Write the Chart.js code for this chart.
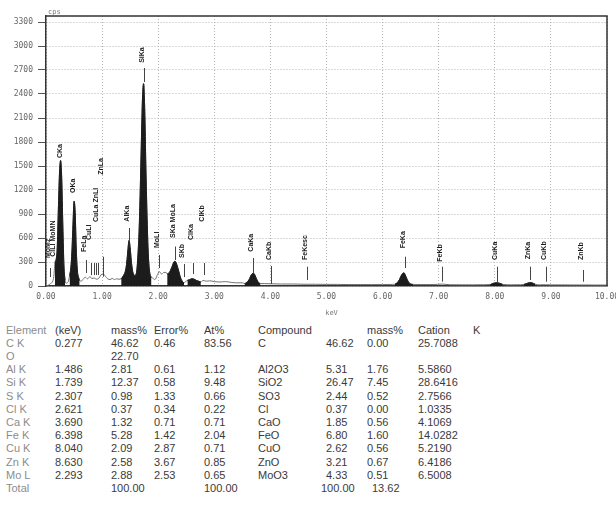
<!DOCTYPE html>
<html>
<head>
<meta charset="utf-8">
<script src="https://cdn.jsdelivr.net/npm/chart.js@4.4.1/dist/chart.umd.min.js"></script>
<style>
  body { margin: 0; background: #fff; }
  #wrap { position: relative; width: 616px; height: 505px; overflow: hidden; }
  #plot { position: absolute; left: 0; top: 0; }
  .cell { position: absolute; font: 11px "Liberation Sans", Arial, sans-serif; color: #3a3a3a; white-space: nowrap; line-height: 13px; }
  .lite { color: #8c8c8c; }
</style>
</head>
<body>
<div id="wrap">
  <canvas id="plot" width="616" height="320"></canvas>
</div>
<script>
// spectrum (keV / counts)
var energy = [0.00, 0.04, 0.08, 0.12, 0.14, 0.16, 0.18, 0.20, 0.22, 0.24, 0.26, 0.28, 0.30, 0.32, 0.34, 0.36, 0.38, 0.40,
  0.42, 0.44, 0.46, 0.48, 0.50, 0.52, 0.54, 0.56, 0.58, 0.60, 0.62, 0.66, 0.70, 0.74, 0.78, 0.82, 0.86, 0.90, 0.94, 0.98,
  1.02, 1.06, 1.10, 1.14, 1.18, 1.22, 1.26, 1.30, 1.34, 1.38, 1.42, 1.44, 1.46, 1.48, 1.50, 1.52, 1.54, 1.56, 1.58, 1.60,
  1.62, 1.64, 1.66, 1.68, 1.70, 1.72, 1.74, 1.76, 1.78, 1.80, 1.82, 1.84, 1.86, 1.88, 1.90, 1.94, 1.98, 2.02, 2.06, 2.10,
  2.14, 2.16, 2.20, 2.24, 2.28, 2.30, 2.32, 2.36, 2.40, 2.44, 2.46, 2.48, 2.52, 2.56, 2.60, 2.64, 2.68, 2.72, 2.76, 2.80,
  2.86, 2.92, 3.00, 3.10, 3.20, 3.30, 3.40, 3.50, 3.54, 3.58, 3.62, 3.66, 3.70, 3.74, 3.78, 3.82, 3.90, 4.00, 4.20, 4.40,
  4.60, 4.80, 5.00, 5.20, 5.40, 5.60, 5.80, 6.00, 6.18, 6.22, 6.26, 6.30, 6.34, 6.38, 6.42, 6.46, 6.50, 6.54, 6.70, 6.90,
  7.06, 7.20, 7.40, 7.60, 7.80, 7.92, 7.96, 8.02, 8.08, 8.14, 8.30, 8.46, 8.52, 8.56, 8.62, 8.66, 8.72, 8.80, 8.90, 9.00,
  9.20, 9.40, 9.60, 9.80, 10.00];
var counts = [0, 10, 30, 60, 120, 300, 330, 480, 950, 1400, 1570, 1350, 750, 250, 70, 35, 40, 60,
  130, 210, 400, 750, 1060, 920, 450, 190, 110, 70, 60, 80, 110, 90, 115, 95, 100, 85, 95, 140,
  150, 120, 90, 80, 95, 80, 90, 85, 90, 130, 200, 300, 450, 570, 480, 320, 200, 150, 130, 140,
  200, 400, 700, 1200, 1800, 2350, 2530, 2200, 1500, 900, 450, 220, 130, 110, 100, 80, 130, 180, 150, 170,
  170, 150, 170, 230, 300, 310, 290, 200, 100, 50, 40, 50, 70, 80, 90, 85, 70, 60, 50, 70,
  60, 65, 55, 50, 55, 45, 40, 40, 30, 45, 80, 140, 160, 110, 50, 30, 30, 28, 25, 25,
  22, 22, 20, 20, 18, 18, 18, 18, 20, 22, 40, 80, 140, 165, 110, 50, 25, 20, 18, 18,
  24, 16, 15, 15, 16, 18, 30, 40, 35, 20, 15, 16, 20, 28, 42, 40, 22, 15, 16, 14,
  14, 13, 13, 12, 12];

// filled element windows (keV)
var roiStart = [0.16, 0.42, 1.34, 2.16, 2.52, 3.54, 6.22, 7.92, 8.52];
var roiEnd   = [0.34, 0.60, 1.88, 2.46, 2.76, 3.82, 6.54, 8.14, 8.72];

// axis ticks
var yTicks = [0, 300, 600, 900, 1200, 1500, 1800, 2100, 2400, 2700, 3000, 3300];
var xTicks = [0, 1, 2, 3, 4, 5, 6, 7, 8, 9, 10];

// element line markers
var markerKeV  = [0.08, 0.16, 0.277, 0.525, 0.705, 0.811, 0.85, 0.884, 0.930, 1.012, 1.486, 1.739, 2.015, 2.293, 2.307,
  2.464, 2.621, 2.815, 3.690, 4.012, 4.66, 6.398, 7.057, 8.040, 8.630, 8.904, 9.570];
var markerLo   = [112, 0, 0, 0, 162, 137, 137, 137, 137, 116, 575, 2550, 225, 325, 325,
  112, 150, 137, 162, 25, 75, 225, 54, 34, 75, 54, 54];
var markerHi   = [225, 0, 0, 0, 325, 287, 287, 287, 287, 366, 725, 2725, 387, 491, 491,
  275, 287, 287, 350, 250, 241, 366, 241, 241, 241, 241, 200];
var markerTextAt = [350, 366, 1600, 1162, 425, 575, 0, 0, 800, 1390, 804, 2790, 475, 600, 0,
  350, 575, 804, 429, 325, 325, 471, 304, 325, 334, 325, 325];
var markerName = ["MoMz", "ClLl MoMN", "CKa", "OKa", "FeLa", "CuLl", "", "", "CuLa ZnLl", "ZnLa", "AlKa", "SiKa", "MoLl", "SKa MoLa", "",
  "SKb", "ClKa", "ClKb", "CaKa", "CaKb", "FeKesc", "FeKa", "FeKb", "CuKa", "ZnKa", "CuKb", "ZnKb"];

// quantification table
var tabHeader = ["Element", "(keV)", "mass%", "Error%", "At%", "Compound", "", "mass%", "Cation", "K"];
var colElement = ["C K", "O", "Al K", "Si K", "S K", "Cl K", "Ca K", "Fe K", "Cu K", "Zn K", "Mo L", "Total"];
var colKeV     = ["0.277", "", "1.486", "1.739", "2.307", "2.621", "3.690", "6.398", "8.040", "8.630", "2.293", ""];
var colMass    = ["46.62", "22.70", "2.81", "12.37", "0.98", "0.37", "1.32", "5.28", "2.09", "2.58", "2.88", "100.00"];
var colError   = ["0.46", "", "0.61", "0.58", "1.33", "0.34", "0.71", "1.42", "2.87", "3.67", "2.53", ""];
var colAt      = ["83.56", "", "1.12", "9.48", "0.66", "0.22", "0.71", "2.04", "0.71", "0.85", "0.65", "100.00"];
var colCompound = ["C", "", "Al2O3", "SiO2", "SO3", "Cl", "CaO", "FeO", "CuO", "ZnO", "MoO3", ""];
var colCompMass = ["46.62", "", "5.31", "26.47", "2.44", "0.37", "1.85", "6.80", "2.62", "3.21", "4.33", "100.00"];
var colCompMass2 = ["0.00", "", "1.76", "7.45", "0.52", "0.00", "0.56", "1.60", "0.56", "0.67", "0.51", "13.62"];
var colCation  = ["25.7088", "", "5.5860", "28.6416", "2.7566", "1.0335", "4.1069", "14.0282", "5.2190", "6.4186", "6.5008", ""];

function inRoi(e) {
  for (var i = 0; i < roiStart.length; i++) {
    if (e >= roiStart[i] - 1e-9 && e <= roiEnd[i] + 1e-9) return true;
  }
  return false;
}

var linePts = energy.map(function (e, i) { return { x: e, y: counts[i] }; });
var roiPts = energy.map(function (e, i) { return { x: e, y: inRoi(e) ? counts[i] : null }; });

var overlay = {
  id: "overlay",
  afterDatasetsDraw: function (chart) {
    var ctx = chart.ctx, xs = chart.scales.x, ys = chart.scales.y, a = chart.chartArea;
    ctx.save();
    ctx.strokeStyle = "#333";
    ctx.lineWidth = 1.5;
    ctx.beginPath();
    ctx.moveTo(a.left, a.top);
    ctx.lineTo(a.right, a.top);
    ctx.lineTo(a.right, a.bottom);
    ctx.stroke();

    ctx.lineWidth = 1;
    ctx.strokeStyle = "#444";
    ctx.fillStyle = "#1a1a1a";
    ctx.font = "bold 7px 'Liberation Sans', Arial, sans-serif";
    for (var i = 0; i < markerKeV.length; i++) {
      var px = Math.round(xs.getPixelForValue(markerKeV[i])) + 0.5;
      if (markerHi[i] > markerLo[i]) {
        ctx.beginPath();
        ctx.moveTo(px, ys.getPixelForValue(markerLo[i]));
        ctx.lineTo(px, ys.getPixelForValue(markerHi[i]));
        ctx.stroke();
      }
      if (markerName[i]) {
        ctx.save();
        ctx.translate(px - 2, ys.getPixelForValue(markerTextAt[i]));
        ctx.rotate(-Math.PI / 2);
        ctx.textAlign = "left";
        ctx.textBaseline = "middle";
        ctx.fillText(markerName[i], 0, 0);
        ctx.restore();
      }
    }

    ctx.fillStyle = "#777";
    ctx.font = "7px 'DejaVu Sans Mono', monospace";
    ctx.textAlign = "left";
    ctx.textBaseline = "middle";
    ctx.fillText("cps", a.left + 2, a.top - 4);
    ctx.textAlign = "center";
    ctx.fillText("keV", (a.left + a.right) / 2 + 5, a.bottom + 27);
    ctx.restore();
  }
};

var ctx = document.getElementById("plot").getContext("2d");
var myChart = new Chart(ctx, {
  type: "line",
  data: {
    datasets: [
      {
        data: roiPts,
        borderColor: "#1c1c1c",
        backgroundColor: "#1c1c1c",
        borderWidth: 1,
        fill: "origin",
        pointRadius: 0,
        spanGaps: false,
        cubicInterpolationMode: "monotone",
        order: 0,
      },
      {
        data: linePts,
        borderColor: "#707070",
        borderWidth: 1,
        fill: false,
        pointRadius: 0,
        cubicInterpolationMode: "monotone",
        order: 1,
      },
    ],
  },
  options: {
    responsive: false,
    animation: false,
    layout: { padding: { top: 16, right: 9, left: 0, bottom: 0 } },
    plugins: { legend: { display: false }, tooltip: { enabled: false } },
    scales: {
      x: {
        type: "linear",
        min: 0,
        max: 10,
        afterBuildTicks: function (s) { s.ticks = xTicks.map(function (v) { return { value: v }; }); },
        ticks: {
          autoSkip: false,
          maxRotation: 0,
          padding: 6,
          color: "#666",
          font: { family: "'DejaVu Sans Mono', monospace", size: 8 },
          callback: function (v) { return Number(v).toFixed(2); },
        },
        grid: { color: "#b4b4b4", lineWidth: 1, drawTicks: false },
        border: { display: true, color: "#333", width: 1.5, dash: [1, 2] },
        afterFit: function (s) { s.height = 34; s.paddingLeft = 0; s.paddingRight = 0; },
      },
      y: {
        min: 0,
        max: 3375,
        afterBuildTicks: function (s) { s.ticks = yTicks.map(function (v) { return { value: v }; }); },
        ticks: {
          autoSkip: false,
          padding: 5,
          color: "#666",
          font: { family: "'DejaVu Sans Mono', monospace", size: 8 },
          callback: function (v) { return String(v); },
        },
        grid: { color: "#b4b4b4", lineWidth: 1, drawTicks: true, tickLength: 8, tickColor: "#555", tickBorderDash: [] },
        border: { display: true, color: "#333", width: 1.5, dash: [1, 2] },
        afterFit: function (s) { s.width = 46; s.paddingTop = 0; s.paddingBottom = 0; },
      },
    },
  },
  plugins: [overlay],
});

// table below the spectrum
var wrap = document.getElementById("wrap");
var colX = [6, 55, 111, 154, 204, 258, 326, 367, 418, 473];
var rowY0 = 330, rowStep = 13.2;

function putCell(text, x, yc, lite) {
  if (!text) return;
  var d = document.createElement("div");
  d.className = "cell" + (lite ? " lite" : "");
  d.textContent = text;
  d.style.left = x + "px";
  d.style.top = (yc - 6.5) + "px";
  wrap.appendChild(d);
}

for (var h = 0; h < tabHeader.length; h++) {
  putCell(tabHeader[h], colX[h], rowY0, h === 0);
}
var cols = [colElement, colKeV, colMass, colError, colAt, colCompound, colCompMass, colCompMass2, colCation];
for (var r = 0; r < colElement.length; r++) {
  var yc = rowY0 + rowStep * (r + 1);
  var last = r === colElement.length - 1;
  for (var c = 0; c < cols.length; c++) {
    var x = colX[c];
    if (last && c === 6) x = 321;
    if (last && c === 7) x = 372;
    putCell(cols[c][r], x, yc, c === 0);
  }
}
</script>
</body>
</html>
